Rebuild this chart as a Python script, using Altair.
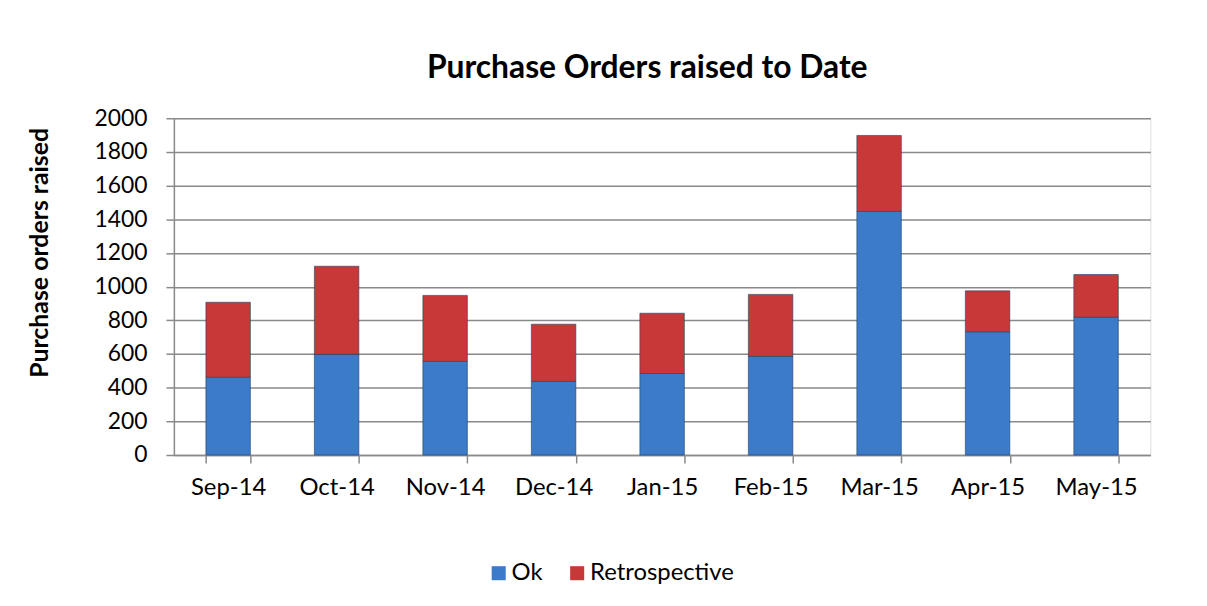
import altair as alt
import pandas as pd

months = ["Sep-14", "Oct-14", "Nov-14", "Dec-14", "Jan-15", "Feb-15", "Mar-15", "Apr-15", "May-15"]
ok_values = [462, 598, 556, 437, 484, 586, 1447, 732, 818]
retro_values = [445, 523, 392, 340, 358, 368, 451, 243, 254]
series = ["Ok", "Retrospective"]
y_ticks = [0, 200, 400, 600, 800, 1000, 1200, 1400, 1600, 1800, 2000]

rows = []
for m, o, r in zip(months, ok_values, retro_values):
    rows.append({"month": m, "series": series[0], "value": o, "order": 0})
    rows.append({"month": m, "series": series[1], "value": r, "order": 1})
df = pd.DataFrame(rows)

FONT = "Lato"
GRID = "#8a8a8a"

chart = alt.Chart(df).mark_bar(stroke="#1f3f66", strokeWidth=0.6).encode(
    x=alt.X("month:N", sort=months,
            scale=alt.Scale(paddingInner=0.59, paddingOuter=0.295),
            axis=alt.Axis(title=None, labelAngle=0, tickBand="extent", tickSize=8,
                          labelPadding=13, labelFontSize=24, labelColor="#000000",
                          labelFont=FONT, domainColor=GRID, tickColor=GRID,
                          domainWidth=1.5, tickWidth=1.5, grid=False)),
    y=alt.Y("value:Q", stack="zero",
            scale=alt.Scale(domain=[0, 2000], nice=False),
            axis=alt.Axis(title="Purchase orders raised", values=y_ticks, format="d",
                          titleFont=FONT, titleFontSize=25, titleFontWeight="bold",
                          titleColor="#000000", titleX=-135, titleY=135,
                          titleAngle=-90, titleAlign="center", titleBaseline="middle",
                          labelFont=FONT, labelFontSize=23, labelColor="#000000",
                          labelPadding=19, tickSize=8, tickColor=GRID, domainColor=GRID,
                          domainWidth=1.5, tickWidth=1.5,
                          grid=True, gridColor=GRID, gridWidth=1.5)),
    color=alt.Color("series:N", sort=series,
                    scale=alt.Scale(domain=series, range=["#3B7BC8", "#C93838"]),
                    legend=alt.Legend(title=None, orient="none", direction="horizontal",
                                      legendX=315, legendY=446, symbolType="square",
                                      symbolSize=200, symbolStrokeWidth=0,
                                      labelFont=FONT, labelFontSize=24, labelColor="#000000",
                                      columnPadding=22, labelOffset=1)),
    order=alt.Order("order:Q"),
).properties(
    width=983, height=339,
    title=alt.TitleParams("Purchase Orders raised to Date", font=FONT, fontSize=32,
                          fontWeight="bold", color="#000000", anchor="middle",
                          dx=-15, offset=23),
    autosize=alt.AutoSizeParams(type="none"),
    padding={"left": 167, "top": 109, "right": 49, "bottom": 150},
).configure_view(stroke=None).configure(background="#ffffff")

chart.save("out.html", embed_options={"renderer": "svg", "actions": False})
